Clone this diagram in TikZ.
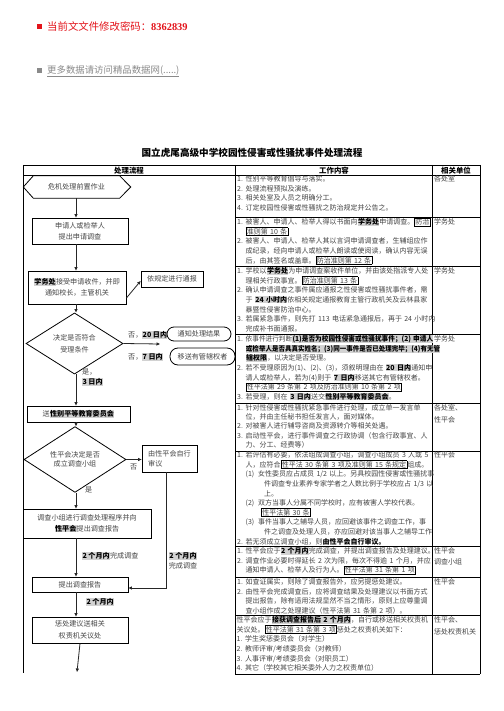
\documentclass[tikz,border=0pt]{standalone}
\usepackage{fontspec}
\setmainfont{Noto Sans CJK SC}
\newfontfamily\serifnum{Liberation Serif}
\usetikzlibrary{arrows.meta,shapes.geometric,calc}
\definecolor{hlgray}{HTML}{D2D2D2}
\definecolor{txt}{HTML}{444444}
\definecolor{redtxt}{HTML}{E3141B}
\definecolor{graytxt}{HTML}{8A8A8A}
\newcommand\hlb[1]{{\setlength\fboxsep{0.3pt}\colorbox{hlgray}{\bfseries\color{black}#1}}}
\newcommand\bdt[1]{{\bfseries\color{black}#1}}
\newcommand\bx[1]{{\setlength\fboxsep{0.5pt}\setlength\fboxrule{0.6pt}\color{black}\fbox{\color{txt}#1}}}
\newcommand\nm[1]{\makebox[8.5pt][l]{#1}}
\newcommand\ct{\hspace*{8.5pt}}
\begin{document}
\begin{tikzpicture}[x=1pt,y=-1pt,
  cell/.style={anchor=base west, inner sep=0pt, text width=250pt, align=left,
    font=\fontsize{7.0}{9.6}\selectfont, text=txt},
  rc/.style={anchor=base west, inner sep=0pt, font=\fontsize{7.0}{9.6}\selectfont, text=txt},
  hdr/.style={inner sep=0pt, font=\bfseries\fontsize{7.4}{9}\selectfont},
  tbl/.style={line width=0.8pt, black},
  fbox/.style={draw=black, line width=0.8pt, inner sep=0pt, align=center,
    font=\fontsize{7.1}{11}\selectfont, text=txt},
  dia/.style={fbox, shape=diamond},
  rbox/.style={fbox, rounded corners=7pt},
  lbl/.style={inner sep=0pt, anchor=west, font=\fontsize{7.1}{9.6}\selectfont, text=txt},
  arr/.style={-{Triangle[length=3.5pt,width=3pt]}, line width=0.8pt, black!85},
  ln/.style={line width=0.8pt, black!85}
]
\fill[white] (0,0) rectangle (503,711);
\useasboundingbox (0,0) rectangle (503,711);

% header
\node[fill=redtxt, minimum size=5pt, inner sep=0pt] (sq1) at (39.5,27) {};
\node[anchor=west, inner sep=0pt, text=redtxt, font=\fontsize{10.4}{12}\selectfont] (pw) at (47,27)
  {当前文文件修改密码：{\serifnum\bfseries 8362839}};
\node[fill=graytxt, minimum size=5pt, inner sep=0pt] (sq2) at (39.5,71) {};
\node[anchor=west, inner sep=0pt, text=graytxt, font=\fontsize{9.4}{12}\selectfont] (more) at (47,71)
  {\underline{更多数据请访问精品数据网(.....)}};
\node[inner sep=0pt, font=\bfseries\fontsize{9.6}{12}\selectfont] (title) at (252,153)
  {国立虎尾高级中学校园性侵害或性骚扰事件处理流程};

% table frame
\draw[tbl] (23,165) -- (480,165);
\draw[tbl] (23,175) -- (480,175);
\draw[tbl] (23,165) -- (23,673);
\draw[tbl] (235,165) -- (235,674);
\draw[tbl] (432,165) -- (432,674);
\draw[tbl] (480,165) -- (480,674);
\draw[tbl] (235,674) -- (480,674);
\foreach \yy in {217,266,334,403,451,546,577,615}
  \draw[tbl] (235,\yy) -- (480,\yy);

\node[hdr] (h1) at (129,170.5) {处理流程};
\node[hdr] (h2) at (334,170.5) {工作内容};
\node[hdr] (h3) at (456,170.5) {相关单位};

% middle column
\node[cell] (r1) at (237,181.7) {\nm{1.}性别平等教育倡导与落实。\\
\nm{2.}处理流程预拟及演练。\\
\nm{3.}相关处室及人员之明确分工。\\
\nm{4.}订定校园性侵害或性骚扰之防治规定并公告之。};

\node[cell] (r2) at (237,224.7) {\nm{1.}被害人、申请人、检举人得以书面向\hlb{学务处}申请调查。\bx{防治}\\
\ct\bx{准则第 10 条}\\
\nm{2.}被害人、申请人、检举人其以言词申请调查者，生辅组应作\\
\ct 成纪录，经向申请人或检举人朗读或使阅读，确认内容无误\\
\ct 后，由其签名或盖章。\bx{防治准则第 12 条}};

\node[cell] (r3) at (237,273.7) {\nm{1.}学校以\hlb{学务处}为申请调查案收件单位，并由该处指派专人处\\
\ct 理相关行政事宜。\bx{防治准则第 13 条}\\
\nm{2.}确认申请调查之事件属应通报之性侵害或性骚扰事件者，需\\
\ct 于 \hlb{24 小时内}依相关规定通报教育主管行政机关及云林县家\\
\ct 暴暨性侵害防治中心。\\
\nm{3.}若属紧急事件，则先打 113 电话紧急通报后，再于 24 小时内\\
\ct 完成补书面通报。};

\node[cell] (r4) at (237,341.7) {\nm{1.}\scalebox{0.95}[1]{依事件进行判断\hlb{(1)是否为校园性侵害或性骚扰事件；(2) 申请人}}\\
\ct\scalebox{0.93}[1]{\hlb{或检举人是否具真实姓名；(3)同一事件是否已处理完毕；(4)有无管}}\\
\ct\hlb{辖权限}，以决定是否受理。\\
\nm{2.}若不受理原因为(1)、(2)、(3)，须叙明理由在 \hlb{20 日内}通知申\\
\ct 请人或检举人，若为(4)则于 \hlb{7 日内}移送其它有管辖权者。\\
\ct\bx{性平法第 29 条第 2 项及防治准则第 10 条第 2 项}\\
\nm{3.}若受理，则在 \hlb{3 日内}送交\hlb{性别平等教育委员会}。};

\node[cell, font=\fontsize{7.0}{9.1}\selectfont] (r5) at (237,410.7) {\nm{1.}针对性侵害或性骚扰紧急事件进行处理，成立单一发言单\\
\ct 位，并由主任秘书担任发言人，面对媒体。\\
\nm{2.}对被害人进行辅导咨商及资源转介等相关处遇。\\
\nm{3.}启动性平会，进行事件调查之行政协调（包含行政事宜、人\\
\ct 力、分工、经费等）};

\node[cell] (r6) at (237,457.7) {\nm{1.}若评估有必要，依法组成调查小组，调查小组成员 3 人或 5\\
\ct 人，应符合\bx{性平法 30 条第 3 项及准则第 15 条规定}组成。\\
\ct\makebox[12.5pt][l]{(1)}女性委员应占成员 1/2 以上。另具校园性侵害或性骚扰事\\
\hspace*{27pt}件调查专业素养专家学者之人数比例于学校应占 1/3 以\\
\hspace*{27pt}上。\\
\ct\makebox[12.5pt][l]{(2)}双方当事人分属不同学校时，应有被害人学校代表。\\
\hspace*{24pt}\bx{性平法第 30 条}\\
\ct\makebox[12.5pt][l]{(3)}事件当事人之辅导人员，应回避该事件之调查工作，事\\
\hspace*{27pt}件之调查及处理人员，亦应回避对该当事人之辅导工作\\
\nm{2.}若无须成立调查小组，则\bdt{由性平会自行审议。}};

\node[cell] (r7) at (237,553.7) {\nm{1.}性平会应于\hlb{2 个月内}完成调查，并提出调查报告及处理建议。\\
\nm{2.}调查作业必要时得延长 2 次为限，每次不得逾 1 个月，并应\\
\ct 通知申请人、检举人及行为人。\bx{性平法第 31 条第 1 项}};

\node[cell] (r8) at (237,584.7) {\nm{1.}如查证属实，则除了调查报告外，应另提惩处建议。\\
\nm{2.}由性平会完成调查后，应将调查结果及处理建议以书面方式\\
\ct 提出报告，除有适用法规显然不当之情形，原则上应尊重调\\
\ct 查小组作成之处理建议（性平法第 31 条第 2 项）。};

\node[cell] (r9) at (236.5,622.7) {性平会应于\hlb{接获调查报告后 2 个月内}，自行或移送相关权责机\\
关议处。\bx{性平法第 31 条第 3 项}惩处之权责机关如下：\\
\nm{1.}学生奖惩委员会（对学生）\\
\nm{2.}教师评审/考绩委员会（对教师）\\
\nm{3.}人事评审/考绩委员会（对职员工）\\
\nm{4.}其它（学校其它相关委外人力之权责单位）};

% right column
\node[rc] (u1) at (434,181.7) {各处室};
\node[rc] (u2) at (434,224.7) {学务处};
\node[rc] (u3) at (434,273.7) {学务处};
\node[rc] (u4) at (434,341.7) {学务处};
\node[rc] (u5a) at (434,410.7) {各处室、};
\node[rc] (u5b) at (434,422.7) {性平会};
\node[rc] (u6) at (434,457.7) {性平会};
\node[rc] (u7a) at (434,553.7) {性平会};
\node[rc] (u7b) at (434,564.7) {调查小组};
\node[rc] (u8) at (434,584.7) {性平会};
\node[rc] (u9a) at (434,622.7) {性平会、};
\node[rc] (u9b) at (434,634.7) {惩处权责机关};

% left column flowchart
\coordinate (ax) at (76,0);
\node[inner sep=0pt, minimum width=86pt, minimum height=22pt, font=\fontsize{7.1}{9}\selectfont, text=txt] (hex) at (76.5,187) {危机处理前置作业};
\draw[line width=0.8pt] (hex.north west) -- (hex.north east) -- ([xshift=11pt]hex.east) -- (hex.south east) -- (hex.south west) -- ([xshift=-10pt]hex.west) -- cycle;

\node[fbox, minimum width=96pt, minimum height=26pt] (b1) at (80,231) {申请人或检举人\\提出申请调查};
\node[fbox, minimum width=98pt, minimum height=33pt] (b2) at (77,287.5) {\hlb{学务处}接受申请收件，并即\\通知校长，主管机关};
\node[fbox, minimum width=62pt, minimum height=16pt] (n1) at (172,279) {依规定进行通报};
\node[dia, minimum width=97pt, minimum height=47pt, font=\fontsize{7.1}{12}\selectfont] (d1) at (74.5,343.5) {决定是否符合\\受理条件};
\node[rbox, minimum width=64pt, minimum height=14pt] (o1) at (199,334) {通知处理结果};
\node[rbox, rounded corners=8pt, minimum width=65pt, minimum height=17pt] (o2) at (202.5,356.5) {移送有管辖权者};
\coordinate (d1e) at (160,344);
\node[lbl] (l20) at (128,335) {否，\hlb{20 日内}};
\node[lbl] (l7) at (128,357) {否，\hlb{7 日内}};
\node[lbl] (lyes1) at (82,372) {是，};
\node[lbl] (l3) at (82,382) {\hlb{3 日内}};
\node[fbox, minimum width=103pt, minimum height=16pt] (b3) at (78.5,414) {送\hlb{性别平等教育委员会}};
\node[dia, minimum width=102pt, minimum height=37pt, font=\fontsize{7.1}{9.5}\selectfont] (d2) at (75,459.5) {性平会决定是否\\成立调查小组};
\node[fbox, minimum width=55pt, minimum height=27pt, align=left, font=\fontsize{7.1}{10}\selectfont] (b4) at (169.5,458.5) {由性平会自行\\审议\hspace*{28.4pt}};
\node[lbl] (lno2) at (130,467) {否};
\node[lbl] (lyes2) at (85,490) {是};
\node[fbox, minimum width=128pt, minimum height=29pt] (b5) at (87,523.5) {调查小组进行调查处理程序并向\\\hlb{性平会}提出调查报告};
\node[fbox, minimum width=96pt, minimum height=15pt] (rep) at (80,584.5) {提出调查报告};
\node[fbox, minimum width=96pt, minimum height=26pt, font=\fontsize{7.1}{12}\selectfont] (pun) at (80,630) {惩处建议送相关\\权责机关议处};
\node[lbl] (l2a) at (82,556) {\hlb{2 个月内}完成调查};
\node[lbl, anchor=center] (l2b) at (183,556) {\hlb{2 个月内}};
\node[lbl, anchor=center] (l2c) at (183,565.5) {完成调查};
\node[lbl] (l2d) at (86,602) {\hlb{2 个月内}};
\coordinate (endp) at (77,672);

\draw[arr] (hex.south -| ax) -- (b1.north -| ax);
\draw[arr] (b1.south -| ax) -- (b2.north -| ax);
\draw[arr] ([yshift=-10.5pt]b2.east) -- ([yshift=-2pt]n1.west);
\draw[arr] (b2.south -| ax) -- (d1.north -| ax);
\draw[arr] (d1.east) -- (d1e);
\draw[arr] (d1.south -| ax) -- (b3.north -| ax);
\draw[arr] (b3.south -| ax) -- (d2.north -| ax);
\draw[arr] (d2.east) -- (b4.west |- d2.east);
\draw[arr] (d2.south -| ax) -- (b5.north -| ax);
\draw[arr] (b5.south -| ax) -- (rep.north -| ax);
\draw[arr] ([xshift=-3.5pt]b4.south) |- ([yshift=-3.5pt]rep.east);
\draw[arr] (rep.south -| ax) -- (pun.north -| ax);
\draw[arr] (pun.south) -- (endp);
\end{tikzpicture}
\end{document}
